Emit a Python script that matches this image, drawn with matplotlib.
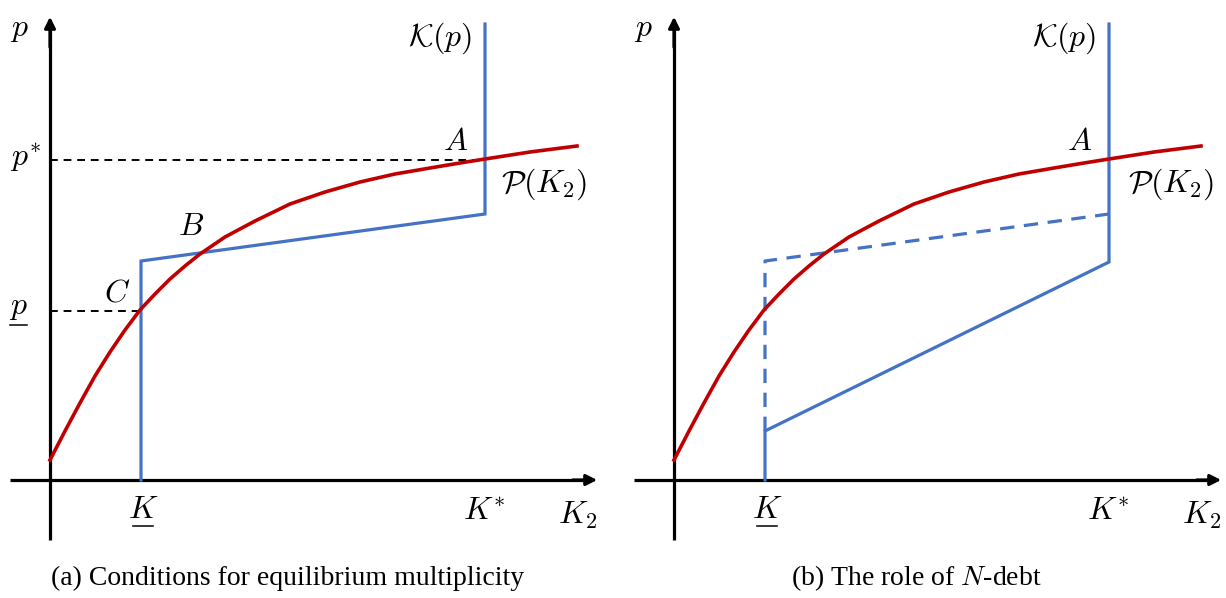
import matplotlib
matplotlib.use("Agg")
import matplotlib.pyplot as plt

plt.rcParams['mathtext.fontset'] = 'cm'
plt.rcParams['font.family'] = ['Liberation Serif', 'DejaVu Serif']

# ---- data (units: 1 = 100 px of the reference) ----
K_low = 0.91
K_star = 4.35
p_low = 1.69
p_star = 3.20
K_top = 4.56

# demand-side curve P(K2)
curve_x = [0.00, 0.15, 0.30, 0.45, 0.60, 0.75, 0.90, 1.05, 1.20, 1.35, 1.50, 1.75,
           2.05, 2.40, 2.75, 3.10, 3.45, 3.80, 4.10, 4.35, 4.80, 5.27]
curve_y = [0.20, 0.49, 0.77, 1.04, 1.28, 1.50, 1.70, 1.86, 2.01, 2.14, 2.26, 2.43,
           2.59, 2.76, 2.88, 2.98, 3.06, 3.12, 3.17, 3.21, 3.28, 3.34]

# supply K(p) schedule, panel (a)
supply_a_x = [K_low, K_low, K_star, K_star]
supply_a_y = [0.00, 2.19, 2.66, K_top]

# panel (b): solid (with N-debt) and dashed (without)
supply_b_x = [K_low, K_low, K_star, K_star]
supply_b_y = [0.00, 0.49, 2.18, K_top]
dashed_b_x = [K_low, K_low, K_star]
dashed_b_y = [0.49, 2.19, 2.66]

RED = '#C00000'
BLUE = '#4472C4'

W, H = 1226, 598
fig = plt.figure(figsize=(W / 100, H / 100), dpi=100)


def make_axes(left_px, origin_px):
    ax = fig.add_axes([left_px / W, 0, 613 / W, 1])
    ax.set_xlim((left_px - origin_px) / 100, (left_px + 613 - origin_px) / 100)
    ax.set_ylim((480 - 598) / 100, 480 / 100)
    ax.axis('off')
    return ax


def draw_axes(ax):
    ax.plot([0, 0], [-0.60, 4.5], color='black', lw=2.3, solid_capstyle='butt')
    ax.annotate('', xy=(0, 4.66), xytext=(0, 4.3),
                arrowprops=dict(arrowstyle='-|>', color='black', lw=2.3, mutation_scale=16))
    ax.plot([-0.40, 5.35], [0, 0], color='black', lw=2.3, solid_capstyle='butt')
    ax.annotate('', xy=(5.50, 0), xytext=(5.2, 0),
                arrowprops=dict(arrowstyle='-|>', color='black', lw=2.3, mutation_scale=16))


fs = 23


def underlined(ax, x, y, s, width, gap):
    ax.text(x, y, s, fontsize=fs, ha='center', va='center')
    ax.plot([x - width / 2, x + width / 2], [y - gap, y - gap], color='black', lw=1.1)


# ---------------- panel (a) ----------------
ax = make_axes(0, 50)
draw_axes(ax)
ax.plot([0, K_star], [p_star, p_star], color='black', lw=1.4, ls=(0, (4, 3)))
ax.plot([0, K_low], [p_low, p_low], color='black', lw=1.4, ls=(0, (4, 3)))
ax.plot(supply_a_x, supply_a_y, color=BLUE, lw=2.3, solid_joinstyle='miter')
ax.plot(curve_x, curve_y, color=RED, lw=2.6, solid_joinstyle='round')
ax.text(-0.40, 4.50, r'$p$', fontsize=fs, ha='left', va='center')
ax.text(-0.40, 3.22, r'$p^{*}$', fontsize=fs, ha='left', va='center')
underlined(ax, -0.32, 1.72, r'$p$', 0.17, 0.17)
ax.text(3.93, 3.37, r'$A$', fontsize=fs, ha='left', va='center')
ax.text(1.28, 2.53, r'$B$', fontsize=fs, ha='left', va='center')
ax.text(0.54, 1.86, r'$C$', fontsize=fs, ha='left', va='center')
ax.text(4.22, 4.42, r'$\mathcal{K}(p)$', fontsize=fs, ha='right', va='center')
ax.text(5.37, 2.96, r'$\mathcal{P}(K_2)$', fontsize=fs, ha='right', va='center')
underlined(ax, K_low + 0.02, -0.31, r'$K$', 0.20, 0.15)
ax.text(K_star - 0.01, -0.32, r'$K^{*}$', fontsize=fs, ha='center', va='center')
ax.text(5.28, -0.35, r'$K_2$', fontsize=fs, ha='center', va='center')
ax.text(2.38, -0.98, '(a) Conditions for equilibrium multiplicity', fontsize=20,
        ha='center', va='center')

# ---------------- panel (b) ----------------
ax = make_axes(613, 674)
draw_axes(ax)
ax.plot(dashed_b_x, dashed_b_y, color=BLUE, lw=2.3, ls=(0, (4.5, 3)))
ax.plot(supply_b_x, supply_b_y, color=BLUE, lw=2.3, solid_joinstyle='miter')
ax.plot(curve_x, curve_y, color=RED, lw=2.6, solid_joinstyle='round')
ax.text(-0.40, 4.50, r'$p$', fontsize=fs, ha='left', va='center')
ax.text(3.93, 3.37, r'$A$', fontsize=fs, ha='left', va='center')
ax.text(4.22, 4.42, r'$\mathcal{K}(p)$', fontsize=fs, ha='right', va='center')
ax.text(5.40, 2.96, r'$\mathcal{P}(K_2)$', fontsize=fs, ha='right', va='center')
underlined(ax, K_low + 0.02, -0.31, r'$K$', 0.20, 0.15)
ax.text(K_star - 0.01, -0.32, r'$K^{*}$', fontsize=fs, ha='center', va='center')
ax.text(5.28, -0.35, r'$K_2$', fontsize=fs, ha='center', va='center')
ax.text(2.42, -0.98, r'(b) The role of $N$-debt', fontsize=20,
        ha='center', va='center')

fig.savefig('out.png', dpi=100)
